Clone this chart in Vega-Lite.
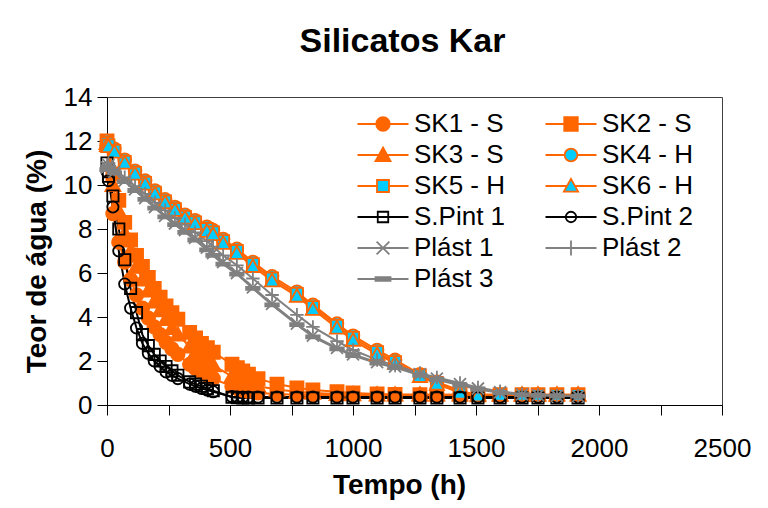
{
"$schema":"https://vega.github.io/schema/vega-lite/v6.json",
"autosize":{"type":"none"},
"width":615,"height":308,
"padding":{"left":107,"top":97,"right":46,"bottom":103},
"background":"white",
"title":{"text":"Silicatos Kar","font":"Liberation Sans","fontSize":34,"fontWeight":"bold","color":"#000","anchor":"middle","frame":"group","baseline":"alphabetic","offset":-2,"dx":-12},
"config":{"view":{"stroke":"#404040","strokeWidth":1},
"axis":{"grid":false,"labelFont":"Liberation Sans","titleFont":"Liberation Sans","labelFontSize":26,"titleFontSize":28,"titleFontWeight":"bold","labelColor":"#000","titleColor":"#000","domainColor":"#000","tickColor":"#000","tickSize":10,"domainWidth":1,"tickWidth":1}},
"datasets":{"d":[
{"s":"SK1 - S","t":0,"v":11.8},{"s":"SK1 - S","t":24,"v":8.7},{"s":"SK1 - S","t":48,"v":7.4},{"s":"SK1 - S","t":72,"v":6.5},{"s":"SK1 - S","t":96,"v":5.7},{"s":"SK1 - S","t":120,"v":5.0},{"s":"SK1 - S","t":144,"v":4.4},{"s":"SK1 - S","t":168,"v":3.95},{"s":"SK1 - S","t":192,"v":3.55},{"s":"SK1 - S","t":216,"v":3.2},{"s":"SK1 - S","t":240,"v":2.85},{"s":"SK1 - S","t":264,"v":2.55},{"s":"SK1 - S","t":288,"v":2.3},{"s":"SK1 - S","t":336,"v":1.85},{"s":"SK1 - S","t":360,"v":1.65},{"s":"SK1 - S","t":384,"v":1.5},{"s":"SK1 - S","t":408,"v":1.35},{"s":"SK1 - S","t":432,"v":1.2},{"s":"SK1 - S","t":508,"v":0.85},{"s":"SK1 - S","t":530,"v":0.75},{"s":"SK1 - S","t":552,"v":0.68},{"s":"SK1 - S","t":575,"v":0.62},{"s":"SK1 - S","t":614,"v":0.55},{"s":"SK1 - S","t":691,"v":0.5},{"s":"SK1 - S","t":772,"v":0.47},{"s":"SK1 - S","t":837,"v":0.45},{"s":"SK1 - S","t":935,"v":0.45},{"s":"SK1 - S","t":1000,"v":0.45},{"s":"SK1 - S","t":1098,"v":0.45},{"s":"SK1 - S","t":1171,"v":0.45},{"s":"SK1 - S","t":1272,"v":0.45},{"s":"SK1 - S","t":1341,"v":0.45},{"s":"SK1 - S","t":1435,"v":0.45},{"s":"SK1 - S","t":1508,"v":0.45},{"s":"SK1 - S","t":1598,"v":0.45},{"s":"SK1 - S","t":1687,"v":0.45},{"s":"SK1 - S","t":1752,"v":0.45},{"s":"SK1 - S","t":1829,"v":0.45},{"s":"SK1 - S","t":1915,"v":0.45},
{"s":"SK2 - S","t":0,"v":12.0},{"s":"SK2 - S","t":24,"v":10.5},{"s":"SK2 - S","t":48,"v":9.3},{"s":"SK2 - S","t":72,"v":8.3},{"s":"SK2 - S","t":96,"v":7.5},{"s":"SK2 - S","t":120,"v":6.8},{"s":"SK2 - S","t":144,"v":6.3},{"s":"SK2 - S","t":168,"v":5.8},{"s":"SK2 - S","t":192,"v":5.3},{"s":"SK2 - S","t":216,"v":4.9},{"s":"SK2 - S","t":240,"v":4.5},{"s":"SK2 - S","t":264,"v":4.2},{"s":"SK2 - S","t":288,"v":3.9},{"s":"SK2 - S","t":336,"v":3.3},{"s":"SK2 - S","t":360,"v":3.05},{"s":"SK2 - S","t":384,"v":2.8},{"s":"SK2 - S","t":408,"v":2.6},{"s":"SK2 - S","t":432,"v":2.4},{"s":"SK2 - S","t":508,"v":1.85},{"s":"SK2 - S","t":530,"v":1.7},{"s":"SK2 - S","t":552,"v":1.55},{"s":"SK2 - S","t":575,"v":1.4},{"s":"SK2 - S","t":614,"v":1.2},{"s":"SK2 - S","t":691,"v":0.95},{"s":"SK2 - S","t":772,"v":0.78},{"s":"SK2 - S","t":837,"v":0.68},{"s":"SK2 - S","t":935,"v":0.6},{"s":"SK2 - S","t":1000,"v":0.55},{"s":"SK2 - S","t":1098,"v":0.5},{"s":"SK2 - S","t":1171,"v":0.48},{"s":"SK2 - S","t":1272,"v":0.47},{"s":"SK2 - S","t":1341,"v":0.47},{"s":"SK2 - S","t":1435,"v":0.47},{"s":"SK2 - S","t":1508,"v":0.47},{"s":"SK2 - S","t":1598,"v":0.47},{"s":"SK2 - S","t":1687,"v":0.47},{"s":"SK2 - S","t":1752,"v":0.47},{"s":"SK2 - S","t":1829,"v":0.47},{"s":"SK2 - S","t":1915,"v":0.47},
{"s":"SK3 - S","t":0,"v":11.9},{"s":"SK3 - S","t":24,"v":10.0},{"s":"SK3 - S","t":48,"v":8.8},{"s":"SK3 - S","t":72,"v":7.8},{"s":"SK3 - S","t":96,"v":7.0},{"s":"SK3 - S","t":120,"v":6.3},{"s":"SK3 - S","t":144,"v":5.7},{"s":"SK3 - S","t":168,"v":5.2},{"s":"SK3 - S","t":192,"v":4.7},{"s":"SK3 - S","t":216,"v":4.3},{"s":"SK3 - S","t":240,"v":3.9},{"s":"SK3 - S","t":264,"v":3.5},{"s":"SK3 - S","t":288,"v":3.2},{"s":"SK3 - S","t":336,"v":2.65},{"s":"SK3 - S","t":360,"v":2.4},{"s":"SK3 - S","t":384,"v":2.2},{"s":"SK3 - S","t":408,"v":2.0},{"s":"SK3 - S","t":432,"v":1.8},{"s":"SK3 - S","t":508,"v":1.3},{"s":"SK3 - S","t":530,"v":1.2},{"s":"SK3 - S","t":552,"v":1.1},{"s":"SK3 - S","t":575,"v":1.0},{"s":"SK3 - S","t":614,"v":0.85},{"s":"SK3 - S","t":691,"v":0.7},{"s":"SK3 - S","t":772,"v":0.6},{"s":"SK3 - S","t":837,"v":0.55},{"s":"SK3 - S","t":935,"v":0.5},{"s":"SK3 - S","t":1000,"v":0.48},{"s":"SK3 - S","t":1098,"v":0.47},{"s":"SK3 - S","t":1171,"v":0.47},{"s":"SK3 - S","t":1272,"v":0.47},{"s":"SK3 - S","t":1341,"v":0.47},{"s":"SK3 - S","t":1435,"v":0.47},{"s":"SK3 - S","t":1508,"v":0.47},{"s":"SK3 - S","t":1598,"v":0.47},{"s":"SK3 - S","t":1687,"v":0.47},{"s":"SK3 - S","t":1752,"v":0.47},{"s":"SK3 - S","t":1829,"v":0.47},{"s":"SK3 - S","t":1915,"v":0.47},
{"s":"SK4 - H","t":0,"v":12.0},{"s":"SK4 - H","t":6,"v":11.9},{"s":"SK4 - H","t":30,"v":11.65},{"s":"SK4 - H","t":72,"v":11.15},{"s":"SK4 - H","t":114,"v":10.65},{"s":"SK4 - H","t":155,"v":10.2},{"s":"SK4 - H","t":195,"v":9.75},{"s":"SK4 - H","t":236,"v":9.35},{"s":"SK4 - H","t":276,"v":9.0},{"s":"SK4 - H","t":317,"v":8.65},{"s":"SK4 - H","t":358,"v":8.4},{"s":"SK4 - H","t":406,"v":8.1},{"s":"SK4 - H","t":431,"v":7.95},{"s":"SK4 - H","t":472,"v":7.55},{"s":"SK4 - H","t":528,"v":7.1},{"s":"SK4 - H","t":593,"v":6.5},{"s":"SK4 - H","t":671,"v":5.85},{"s":"SK4 - H","t":772,"v":5.15},{"s":"SK4 - H","t":837,"v":4.55},{"s":"SK4 - H","t":935,"v":3.7},{"s":"SK4 - H","t":1000,"v":3.15},{"s":"SK4 - H","t":1098,"v":2.5},{"s":"SK4 - H","t":1171,"v":2.05},{"s":"SK4 - H","t":1272,"v":1.4},{"s":"SK4 - H","t":1341,"v":1.05},{"s":"SK4 - H","t":1435,"v":0.65},{"s":"SK4 - H","t":1508,"v":0.45},{"s":"SK4 - H","t":1598,"v":0.45},{"s":"SK4 - H","t":1687,"v":0.45},{"s":"SK4 - H","t":1752,"v":0.45},{"s":"SK4 - H","t":1829,"v":0.45},{"s":"SK4 - H","t":1915,"v":0.45},
{"s":"SK5 - H","t":0,"v":11.9},{"s":"SK5 - H","t":6,"v":11.8},{"s":"SK5 - H","t":30,"v":11.55},{"s":"SK5 - H","t":72,"v":11.05},{"s":"SK5 - H","t":114,"v":10.55},{"s":"SK5 - H","t":155,"v":10.1},{"s":"SK5 - H","t":195,"v":9.65},{"s":"SK5 - H","t":236,"v":9.25},{"s":"SK5 - H","t":276,"v":8.9},{"s":"SK5 - H","t":317,"v":8.55},{"s":"SK5 - H","t":358,"v":8.3},{"s":"SK5 - H","t":406,"v":8.0},{"s":"SK5 - H","t":431,"v":7.85},{"s":"SK5 - H","t":472,"v":7.45},{"s":"SK5 - H","t":528,"v":7.0},{"s":"SK5 - H","t":593,"v":6.4},{"s":"SK5 - H","t":671,"v":5.75},{"s":"SK5 - H","t":772,"v":5.05},{"s":"SK5 - H","t":837,"v":4.45},{"s":"SK5 - H","t":935,"v":3.6},{"s":"SK5 - H","t":1000,"v":3.05},{"s":"SK5 - H","t":1098,"v":2.4},{"s":"SK5 - H","t":1171,"v":1.95},{"s":"SK5 - H","t":1272,"v":1.35},{"s":"SK5 - H","t":1341,"v":1.0},{"s":"SK5 - H","t":1435,"v":0.6},{"s":"SK5 - H","t":1508,"v":0.45},{"s":"SK5 - H","t":1598,"v":0.45},{"s":"SK5 - H","t":1687,"v":0.45},{"s":"SK5 - H","t":1752,"v":0.45},{"s":"SK5 - H","t":1829,"v":0.45},{"s":"SK5 - H","t":1915,"v":0.45},
{"s":"SK6 - H","t":0,"v":11.8},{"s":"SK6 - H","t":6,"v":11.75},{"s":"SK6 - H","t":30,"v":11.5},{"s":"SK6 - H","t":72,"v":11.0},{"s":"SK6 - H","t":114,"v":10.5},{"s":"SK6 - H","t":155,"v":10.05},{"s":"SK6 - H","t":195,"v":9.6},{"s":"SK6 - H","t":236,"v":9.2},{"s":"SK6 - H","t":276,"v":8.85},{"s":"SK6 - H","t":317,"v":8.5},{"s":"SK6 - H","t":358,"v":8.25},{"s":"SK6 - H","t":406,"v":7.9},{"s":"SK6 - H","t":431,"v":7.75},{"s":"SK6 - H","t":472,"v":7.35},{"s":"SK6 - H","t":528,"v":6.9},{"s":"SK6 - H","t":593,"v":6.3},{"s":"SK6 - H","t":671,"v":5.65},{"s":"SK6 - H","t":772,"v":4.95},{"s":"SK6 - H","t":837,"v":4.35},{"s":"SK6 - H","t":935,"v":3.5},{"s":"SK6 - H","t":1000,"v":2.95},{"s":"SK6 - H","t":1098,"v":2.3},{"s":"SK6 - H","t":1171,"v":1.9},{"s":"SK6 - H","t":1272,"v":1.3},{"s":"SK6 - H","t":1341,"v":0.95},{"s":"SK6 - H","t":1435,"v":0.55},{"s":"SK6 - H","t":1508,"v":0.42},{"s":"SK6 - H","t":1598,"v":0.45},{"s":"SK6 - H","t":1687,"v":0.45},{"s":"SK6 - H","t":1752,"v":0.45},{"s":"SK6 - H","t":1829,"v":0.45},{"s":"SK6 - H","t":1915,"v":0.45},
{"s":"S.Pint 1","t":0,"v":11.0},{"s":"S.Pint 1","t":6,"v":10.4},{"s":"S.Pint 1","t":24,"v":9.5},{"s":"S.Pint 1","t":48,"v":8.0},{"s":"S.Pint 1","t":72,"v":6.6},{"s":"S.Pint 1","t":96,"v":5.3},{"s":"S.Pint 1","t":120,"v":4.2},{"s":"S.Pint 1","t":144,"v":3.2},{"s":"S.Pint 1","t":168,"v":2.7},{"s":"S.Pint 1","t":192,"v":2.3},{"s":"S.Pint 1","t":216,"v":2.0},{"s":"S.Pint 1","t":240,"v":1.75},{"s":"S.Pint 1","t":264,"v":1.55},{"s":"S.Pint 1","t":288,"v":1.35},{"s":"S.Pint 1","t":336,"v":1.05},{"s":"S.Pint 1","t":360,"v":0.95},{"s":"S.Pint 1","t":384,"v":0.85},{"s":"S.Pint 1","t":408,"v":0.75},{"s":"S.Pint 1","t":432,"v":0.65},{"s":"S.Pint 1","t":508,"v":0.35},{"s":"S.Pint 1","t":530,"v":0.33},{"s":"S.Pint 1","t":552,"v":0.32},{"s":"S.Pint 1","t":575,"v":0.32},{"s":"S.Pint 1","t":614,"v":0.32},{"s":"S.Pint 1","t":691,"v":0.32},{"s":"S.Pint 1","t":772,"v":0.32},{"s":"S.Pint 1","t":837,"v":0.32},{"s":"S.Pint 1","t":935,"v":0.32},{"s":"S.Pint 1","t":1000,"v":0.32},{"s":"S.Pint 1","t":1098,"v":0.32},{"s":"S.Pint 1","t":1171,"v":0.32},{"s":"S.Pint 1","t":1272,"v":0.32},{"s":"S.Pint 1","t":1341,"v":0.32},{"s":"S.Pint 1","t":1435,"v":0.32},{"s":"S.Pint 1","t":1508,"v":0.32},{"s":"S.Pint 1","t":1598,"v":0.32},{"s":"S.Pint 1","t":1687,"v":0.32},{"s":"S.Pint 1","t":1752,"v":0.32},{"s":"S.Pint 1","t":1829,"v":0.32},{"s":"S.Pint 1","t":1915,"v":0.32},
{"s":"S.Pint 2","t":0,"v":10.6},{"s":"S.Pint 2","t":6,"v":10.2},{"s":"S.Pint 2","t":24,"v":9.0},{"s":"S.Pint 2","t":48,"v":7.0},{"s":"S.Pint 2","t":72,"v":5.5},{"s":"S.Pint 2","t":96,"v":4.4},{"s":"S.Pint 2","t":120,"v":3.5},{"s":"S.Pint 2","t":144,"v":2.8},{"s":"S.Pint 2","t":168,"v":2.35},{"s":"S.Pint 2","t":192,"v":2.0},{"s":"S.Pint 2","t":216,"v":1.75},{"s":"S.Pint 2","t":240,"v":1.5},{"s":"S.Pint 2","t":264,"v":1.35},{"s":"S.Pint 2","t":288,"v":1.2},{"s":"S.Pint 2","t":336,"v":0.95},{"s":"S.Pint 2","t":360,"v":0.85},{"s":"S.Pint 2","t":384,"v":0.75},{"s":"S.Pint 2","t":408,"v":0.68},{"s":"S.Pint 2","t":432,"v":0.6},{"s":"S.Pint 2","t":508,"v":0.38},{"s":"S.Pint 2","t":530,"v":0.36},{"s":"S.Pint 2","t":552,"v":0.36},{"s":"S.Pint 2","t":575,"v":0.36},{"s":"S.Pint 2","t":614,"v":0.36},{"s":"S.Pint 2","t":691,"v":0.36},{"s":"S.Pint 2","t":772,"v":0.36},{"s":"S.Pint 2","t":837,"v":0.36},{"s":"S.Pint 2","t":935,"v":0.36},{"s":"S.Pint 2","t":1000,"v":0.36},{"s":"S.Pint 2","t":1098,"v":0.36},{"s":"S.Pint 2","t":1171,"v":0.36},{"s":"S.Pint 2","t":1272,"v":0.36},{"s":"S.Pint 2","t":1341,"v":0.36},{"s":"S.Pint 2","t":1435,"v":0.36},{"s":"S.Pint 2","t":1508,"v":0.36},{"s":"S.Pint 2","t":1598,"v":0.36},{"s":"S.Pint 2","t":1687,"v":0.36},{"s":"S.Pint 2","t":1752,"v":0.36},{"s":"S.Pint 2","t":1829,"v":0.36},{"s":"S.Pint 2","t":1915,"v":0.36},
{"s":"Plást 1","t":0,"v":10.8},{"s":"Plást 1","t":6,"v":10.9},{"s":"Plást 1","t":30,"v":10.6},{"s":"Plást 1","t":72,"v":10.2},{"s":"Plást 1","t":114,"v":9.8},{"s":"Plást 1","t":155,"v":9.4},{"s":"Plást 1","t":195,"v":9.0},{"s":"Plást 1","t":236,"v":8.6},{"s":"Plást 1","t":276,"v":8.25},{"s":"Plást 1","t":317,"v":7.95},{"s":"Plást 1","t":358,"v":7.6},{"s":"Plást 1","t":406,"v":7.15},{"s":"Plást 1","t":431,"v":6.9},{"s":"Plást 1","t":472,"v":6.5},{"s":"Plást 1","t":528,"v":6.0},{"s":"Plást 1","t":593,"v":5.35},{"s":"Plást 1","t":671,"v":4.6},{"s":"Plást 1","t":772,"v":3.7},{"s":"Plást 1","t":837,"v":3.15},{"s":"Plást 1","t":935,"v":2.6},{"s":"Plást 1","t":1000,"v":2.3},{"s":"Plást 1","t":1098,"v":1.95},{"s":"Plást 1","t":1171,"v":1.75},{"s":"Plást 1","t":1272,"v":1.4},{"s":"Plást 1","t":1341,"v":1.2},{"s":"Plást 1","t":1435,"v":0.95},{"s":"Plást 1","t":1508,"v":0.75},{"s":"Plást 1","t":1598,"v":0.58},{"s":"Plást 1","t":1687,"v":0.48},{"s":"Plást 1","t":1752,"v":0.45},{"s":"Plást 1","t":1829,"v":0.42},{"s":"Plást 1","t":1915,"v":0.4},
{"s":"Plást 2","t":0,"v":10.9},{"s":"Plást 2","t":6,"v":11.0},{"s":"Plást 2","t":30,"v":10.7},{"s":"Plást 2","t":72,"v":10.35},{"s":"Plást 2","t":114,"v":9.95},{"s":"Plást 2","t":155,"v":9.6},{"s":"Plást 2","t":195,"v":9.2},{"s":"Plást 2","t":236,"v":8.85},{"s":"Plást 2","t":276,"v":8.5},{"s":"Plást 2","t":317,"v":8.2},{"s":"Plást 2","t":358,"v":7.85},{"s":"Plást 2","t":406,"v":7.45},{"s":"Plást 2","t":431,"v":7.2},{"s":"Plást 2","t":472,"v":6.8},{"s":"Plást 2","t":528,"v":6.35},{"s":"Plást 2","t":593,"v":5.75},{"s":"Plást 2","t":671,"v":5.0},{"s":"Plást 2","t":772,"v":4.1},{"s":"Plást 2","t":837,"v":3.55},{"s":"Plást 2","t":935,"v":2.9},{"s":"Plást 2","t":1000,"v":2.5},{"s":"Plást 2","t":1098,"v":2.05},{"s":"Plást 2","t":1171,"v":1.8},{"s":"Plást 2","t":1272,"v":1.45},{"s":"Plást 2","t":1341,"v":1.25},{"s":"Plást 2","t":1435,"v":1.0},{"s":"Plást 2","t":1508,"v":0.8},{"s":"Plást 2","t":1598,"v":0.62},{"s":"Plást 2","t":1687,"v":0.5},{"s":"Plást 2","t":1752,"v":0.45},{"s":"Plást 2","t":1829,"v":0.43},{"s":"Plást 2","t":1915,"v":0.42},
{"s":"Plást 3","t":0,"v":10.7},{"s":"Plást 3","t":6,"v":10.8},{"s":"Plást 3","t":30,"v":10.55},{"s":"Plást 3","t":72,"v":10.15},{"s":"Plást 3","t":114,"v":9.75},{"s":"Plást 3","t":155,"v":9.35},{"s":"Plást 3","t":195,"v":8.95},{"s":"Plást 3","t":236,"v":8.55},{"s":"Plást 3","t":276,"v":8.2},{"s":"Plást 3","t":317,"v":7.85},{"s":"Plást 3","t":358,"v":7.5},{"s":"Plást 3","t":406,"v":7.05},{"s":"Plást 3","t":431,"v":6.8},{"s":"Plást 3","t":472,"v":6.4},{"s":"Plást 3","t":528,"v":5.95},{"s":"Plást 3","t":593,"v":5.3},{"s":"Plást 3","t":671,"v":4.55},{"s":"Plást 3","t":772,"v":3.65},{"s":"Plást 3","t":837,"v":3.1},{"s":"Plást 3","t":935,"v":2.55},{"s":"Plást 3","t":1000,"v":2.25},{"s":"Plást 3","t":1098,"v":1.9},{"s":"Plást 3","t":1171,"v":1.7},{"s":"Plást 3","t":1272,"v":1.35},{"s":"Plást 3","t":1341,"v":1.15},{"s":"Plást 3","t":1435,"v":0.9},{"s":"Plást 3","t":1508,"v":0.72},{"s":"Plást 3","t":1598,"v":0.55},{"s":"Plást 3","t":1687,"v":0.47},{"s":"Plást 3","t":1752,"v":0.44},{"s":"Plást 3","t":1829,"v":0.42},{"s":"Plást 3","t":1915,"v":0.4}
]},
"data":{"name":"d"},
"encoding":{
"x":{"field":"t","type":"quantitative","scale":{"domain":[0,2500],"nice":false},"axis":{"title":"Tempo (h)","values":[0,250,500,750,1000,1250,1500,1750,2000,2250,2500],"format":"d","labelExpr":"datum.value % 500 === 0 ? datum.label : ''","labelFlush":false,"labelPadding":20,"titlePadding":10,"titleX":292}},
"y":{"field":"v","type":"quantitative","scale":{"domain":[0,14],"nice":false},"axis":{"title":"Teor de água (%)","values":[0,2,4,6,8,10,12,14],"labelPadding":5,"titlePadding":12,"titleY":164}}
},
"layer":[
{"mark":{"type":"line","strokeWidth":2},
"encoding":{"stroke":{"field":"s","type":"nominal","legend":null,"scale":{"domain":["SK1 - S","SK2 - S","SK3 - S","SK4 - H","SK5 - H","SK6 - H","S.Pint 1","S.Pint 2","Plást 1","Plást 2","Plást 3"],"range":["#FF6600","#FF6600","#FF6600","#FF6600","#FF6600","#FF6600","#000000","#000000","#808080","#808080","#808080"]}}}},
{"mark":{"type":"point","filled":true,"size":225,"strokeWidth":1.8,"opacity":1},
"encoding":{
"shape":{"field":"s","type":"nominal","legend":null,"scale":{"domain":["SK1 - S","SK2 - S","SK3 - S","SK4 - H","SK5 - H","SK6 - H","S.Pint 1","S.Pint 2","Plást 1","Plást 2","Plást 3"],"range":["M0.9,0A0.9,0.9,0,1,1,-0.9,0A0.9,0.9,0,1,1,0.9,0Z","M-0.87,-0.87H0.87V0.87H-0.87Z","M0,-1L1,0.8H-1Z","M0.85,0A0.85,0.85,0,1,1,-0.85,0A0.85,0.85,0,1,1,0.85,0Z","M-0.8,-0.8H0.8V0.8H-0.8Z","M0,-0.95L0.95,0.75H-0.95Z","M-0.75,-0.75H0.75V0.75H-0.75Z","M0.75,0A0.75,0.75,0,1,1,-0.75,0A0.75,0.75,0,1,1,0.75,0Z","M-0.8,-0.8L0.8,0.8M-0.8,0.8L0.8,-0.8","M-0.9,0H0.9M0,-0.9V0.9","M-0.9,-0.2H0.9V0.2H-0.9Z"]}},
"fill":{"field":"s","type":"nominal","legend":null,"scale":{"domain":["SK1 - S","SK2 - S","SK3 - S","SK4 - H","SK5 - H","SK6 - H","S.Pint 1","S.Pint 2","Plást 1","Plást 2","Plást 3"],"range":["#FF6600","#FF6600","#FF6600","#00CCFF","#00CCFF","#00CCFF","transparent","transparent","transparent","transparent","#808080"]}},
"stroke":{"field":"s","type":"nominal","legend":null,"scale":{"domain":["SK1 - S","SK2 - S","SK3 - S","SK4 - H","SK5 - H","SK6 - H","S.Pint 1","S.Pint 2","Plást 1","Plást 2","Plást 3"],"range":["#FF6600","#FF6600","#FF6600","#FF6600","#FF6600","#FF6600","#000000","#000000","#808080","#808080","#808080"]}}}},
{"transform":[{"filter":"datum.t < 0"}],
"mark":{"type":"point","filled":true,"size":225,"strokeWidth":1.8,"opacity":1},
"encoding":{
"shape":{"field":"s","type":"nominal","legend":{"title":null,"orient":"none","direction":"horizontal","legendX":263,"legendY":14,"columns":2,"columnPadding":35,"rowPadding":5,"labelFont":"Liberation Sans","labelFontSize":26,"labelColor":"#000","labelOffset":18,"labelLimit":300,"symbolSize":225,"symbolStrokeWidth":1.8,"padding":0},"scale":{"domain":["SK1 - S","SK2 - S","SK3 - S","SK4 - H","SK5 - H","SK6 - H","S.Pint 1","S.Pint 2","Plást 1","Plást 2","Plást 3"],"range":["M-3.4,0H-0.9M0.9,0H3.4M0.9,0A0.9,0.9,0,1,1,-0.9,0A0.9,0.9,0,1,1,0.9,0Z","M-3.4,0H-0.9M0.9,0H3.4M-0.9,-0.9H0.9V0.9H-0.9Z","M-3.4,0H-0.55M0.55,0H3.4M0,-1L1,0.8H-1Z","M-3.4,0H-0.85M0.85,0H3.4M0.85,0A0.85,0.85,0,1,1,-0.85,0A0.85,0.85,0,1,1,0.85,0Z","M-3.4,0H-0.8M0.8,0H3.4M-0.8,-0.8H0.8V0.8H-0.8Z","M-3.4,0H-0.55M0.55,0H3.4M0,-0.95L0.95,0.75H-0.95Z","M-3.4,0H3.4M-0.7,-0.7H0.7V0.7H-0.7Z","M-3.4,0H3.4M0.7,0A0.7,0.7,0,1,1,-0.7,0A0.7,0.7,0,1,1,0.7,0Z","M-3.4,0H3.4M-0.85,-0.85L0.85,0.85M-0.85,0.85L0.85,-0.85","M-3.4,0H3.4M0,-1V1","M-3.4,0H3.4M-1,-0.25H1V0.25H-1Z"]}},
"fill":{"field":"s","type":"nominal","legend":{"title":null,"orient":"none","direction":"horizontal","legendX":263,"legendY":14,"columns":2,"columnPadding":35,"rowPadding":5,"labelFont":"Liberation Sans","labelFontSize":26,"labelColor":"#000","labelOffset":18,"labelLimit":300,"symbolSize":225,"symbolStrokeWidth":1.8,"padding":0},"scale":{"domain":["SK1 - S","SK2 - S","SK3 - S","SK4 - H","SK5 - H","SK6 - H","S.Pint 1","S.Pint 2","Plást 1","Plást 2","Plást 3"],"range":["#FF6600","#FF6600","#FF6600","#00CCFF","#00CCFF","#00CCFF","transparent","transparent","transparent","transparent","#808080"]}},
"stroke":{"field":"s","type":"nominal","legend":{"title":null,"orient":"none","direction":"horizontal","legendX":263,"legendY":14,"columns":2,"columnPadding":35,"rowPadding":5,"labelFont":"Liberation Sans","labelFontSize":26,"labelColor":"#000","labelOffset":18,"labelLimit":300,"symbolSize":225,"symbolStrokeWidth":1.8,"padding":0},"scale":{"domain":["SK1 - S","SK2 - S","SK3 - S","SK4 - H","SK5 - H","SK6 - H","S.Pint 1","S.Pint 2","Plást 1","Plást 2","Plást 3"],"range":["#FF6600","#FF6600","#FF6600","#FF6600","#FF6600","#FF6600","#000000","#000000","#808080","#808080","#808080"]}}}}
],
"resolve":{"scale":{"shape":"independent","fill":"independent","stroke":"independent"}}
}
